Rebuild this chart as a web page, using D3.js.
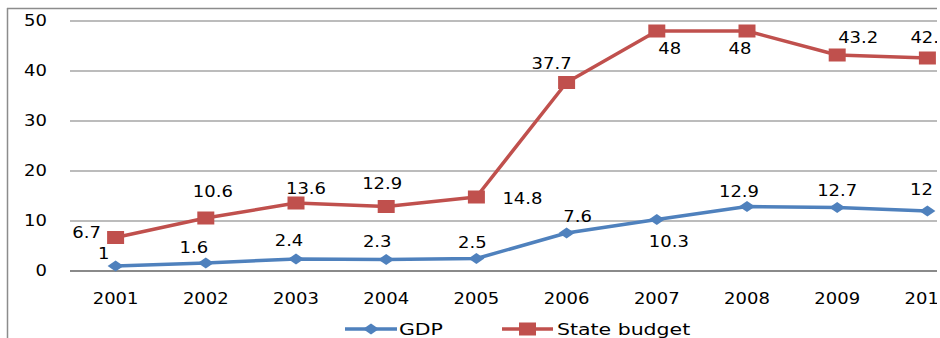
<!DOCTYPE html>
<html>
<head>
<meta charset="utf-8">
<script src="https://cdn.jsdelivr.net/npm/d3@7"></script>
<style>
  html, body { margin: 0; padding: 0; background: #fff; }
  svg { display: block; }
  text { font-family: "DejaVu Sans", Verdana, sans-serif; fill: #000; }
</style>
</head>
<body>
<svg id="chart" width="940" height="338"></svg>
<script>
    // chart data
    var years = ["2001", "2002", "2003", "2004", "2005", "2006", "2007", "2008", "2009", "2010"];
    var gdp = [1, 1.6, 2.4, 2.3, 2.5, 7.6, 10.3, 12.9, 12.7, 12];
    var stateBudget = [6.7, 10.6, 13.6, 12.9, 14.8, 37.7, 48, 48, 43.2, 42.6];
    var yTicks = [0, 10, 20, 30, 40, 50];
    var seriesNames = ["GDP", "State budget"];

    // label placement relative to each point (dx, dy of text centre)
    var gdpLabelOffsets = [[-12, -12], [-12, -15], [-7, -18], [-9, -18], [-4, -16], [11, -16], [12, 22], [-8, -15], [0, -17], [-6, -21]];
    var budgetLabelOffsets = [[-29, -5], [7, -26], [10, -14], [-4, -23], [46, 2], [-15, -19], [13, 18], [-7, 18], [21, -17], [3, -20]];

    var blue = "#4f81bd",
        red = "#c0504d",
        textScale = 1.2;

    var svg = d3.select("#chart");

    svg.append("defs").append("clipPath").attr("id", "clip")
        .append("rect").attr("x", 0).attr("y", 0).attr("width", 937).attr("height", 338);

    var root = svg.append("g").attr("clip-path", "url(#clip)");

    var x = d3.scaleBand().domain(years).range([70.5, 972.5]).padding(0),
        y = d3.scaleLinear().domain([0, 50]).range([271, 21]);

    var cx = function (d, i) { return x(years[i]) + x.bandwidth() / 2; };

    // outer frame (left and top edges only are visible)
    root.append("line").attr("x1", 7.5).attr("x2", 7.5).attr("y1", 8).attr("y2", 338)
        .attr("stroke", "#8c8c8c").attr("stroke-width", 1.5);
    root.append("line").attr("x1", 7).attr("x2", 940).attr("y1", 8.5).attr("y2", 8.5)
        .attr("stroke", "#8c8c8c").attr("stroke-width", 1.5);

    // gridlines
    root.append("g").selectAll("line").data(yTicks).enter().append("line")
        .attr("x1", 70).attr("x2", 940)
        .attr("y1", function (d) { return y(d); })
        .attr("y2", function (d) { return y(d); })
        .attr("stroke", function (d) { return d === 0 ? "#8a8a8a" : "#a6a6a6"; })
        .attr("stroke-width", function (d) { return d === 0 ? 2 : 1.5; });

    // scaled text helper (the source picture is stretched horizontally)
    function addText(g, tx, ty, str, size, anchor, sx) {
        return g.append("text")
            .attr("transform", "translate(" + tx + "," + ty + ") scale(" + (sx || textScale) + ",1)")
            .attr("text-anchor", anchor || "middle")
            .attr("dy", "0.36em")
            .style("font-size", size + "px")
            .text(str);
    }

    // y tick labels
    var yAxisG = root.append("g");
    yTicks.forEach(function (t) {
        addText(yAxisG, 47, y(t), String(t), 15, "end");
    });

    // x tick labels
    var xAxisG = root.append("g");
    years.forEach(function (yr) {
        addText(xAxisG, x(yr) + x.bandwidth() / 2, 299, yr, 15, "middle");
    });

    var line = d3.line()
        .x(function (d, i) { return cx(d, i); })
        .y(function (d) { return y(d); });

    function diamond(g, px, py) {
        g.append("path")
            .attr("d", "M" + (px - 8) + "," + py + "L" + px + "," + (py - 5.5) + "L" + (px + 8) + "," + py + "L" + px + "," + (py + 5.5) + "Z")
            .attr("fill", blue);
    }
    function square(g, px, py) {
        g.append("rect")
            .attr("x", px - 8.5).attr("y", py - 6.5)
            .attr("width", 17).attr("height", 13)
            .attr("fill", red);
    }

    // series: GDP
    var gdpG = root.append("g");
    gdpG.append("path").datum(gdp).attr("d", line)
        .attr("fill", "none").attr("stroke", blue).attr("stroke-width", 3.5).attr("stroke-linejoin", "round");
    gdp.forEach(function (v, i) { diamond(gdpG, cx(v, i), y(v)); });

    // series: State budget
    var sbG = root.append("g");
    sbG.append("path").datum(stateBudget).attr("d", line)
        .attr("fill", "none").attr("stroke", red).attr("stroke-width", 3.5).attr("stroke-linejoin", "round");
    stateBudget.forEach(function (v, i) { square(sbG, cx(v, i), y(v)); });

    // data labels
    var labelG = root.append("g");
    gdp.forEach(function (v, i) {
        addText(labelG, cx(v, i) + gdpLabelOffsets[i][0], y(v) + gdpLabelOffsets[i][1], String(v), 15, "middle");
    });
    stateBudget.forEach(function (v, i) {
        addText(labelG, cx(v, i) + budgetLabelOffsets[i][0], y(v) + budgetLabelOffsets[i][1], String(v), 15, "middle");
    });

    // legend
    var legend = root.append("g");
    legend.append("line").attr("x1", 345).attr("x2", 397).attr("y1", 329).attr("y2", 329)
        .attr("stroke", blue).attr("stroke-width", 3.5);
    diamond(legend, 371, 329);
    addText(legend, 399, 329, seriesNames[0], 16, "start", 1.28);

    legend.append("line").attr("x1", 502).attr("x2", 553).attr("y1", 329).attr("y2", 329)
        .attr("stroke", red).attr("stroke-width", 3.5);
    square(legend, 527.5, 329);
    addText(legend, 557, 329, seriesNames[1], 16, "start", 1.28);
</script>
</body>
</html>
